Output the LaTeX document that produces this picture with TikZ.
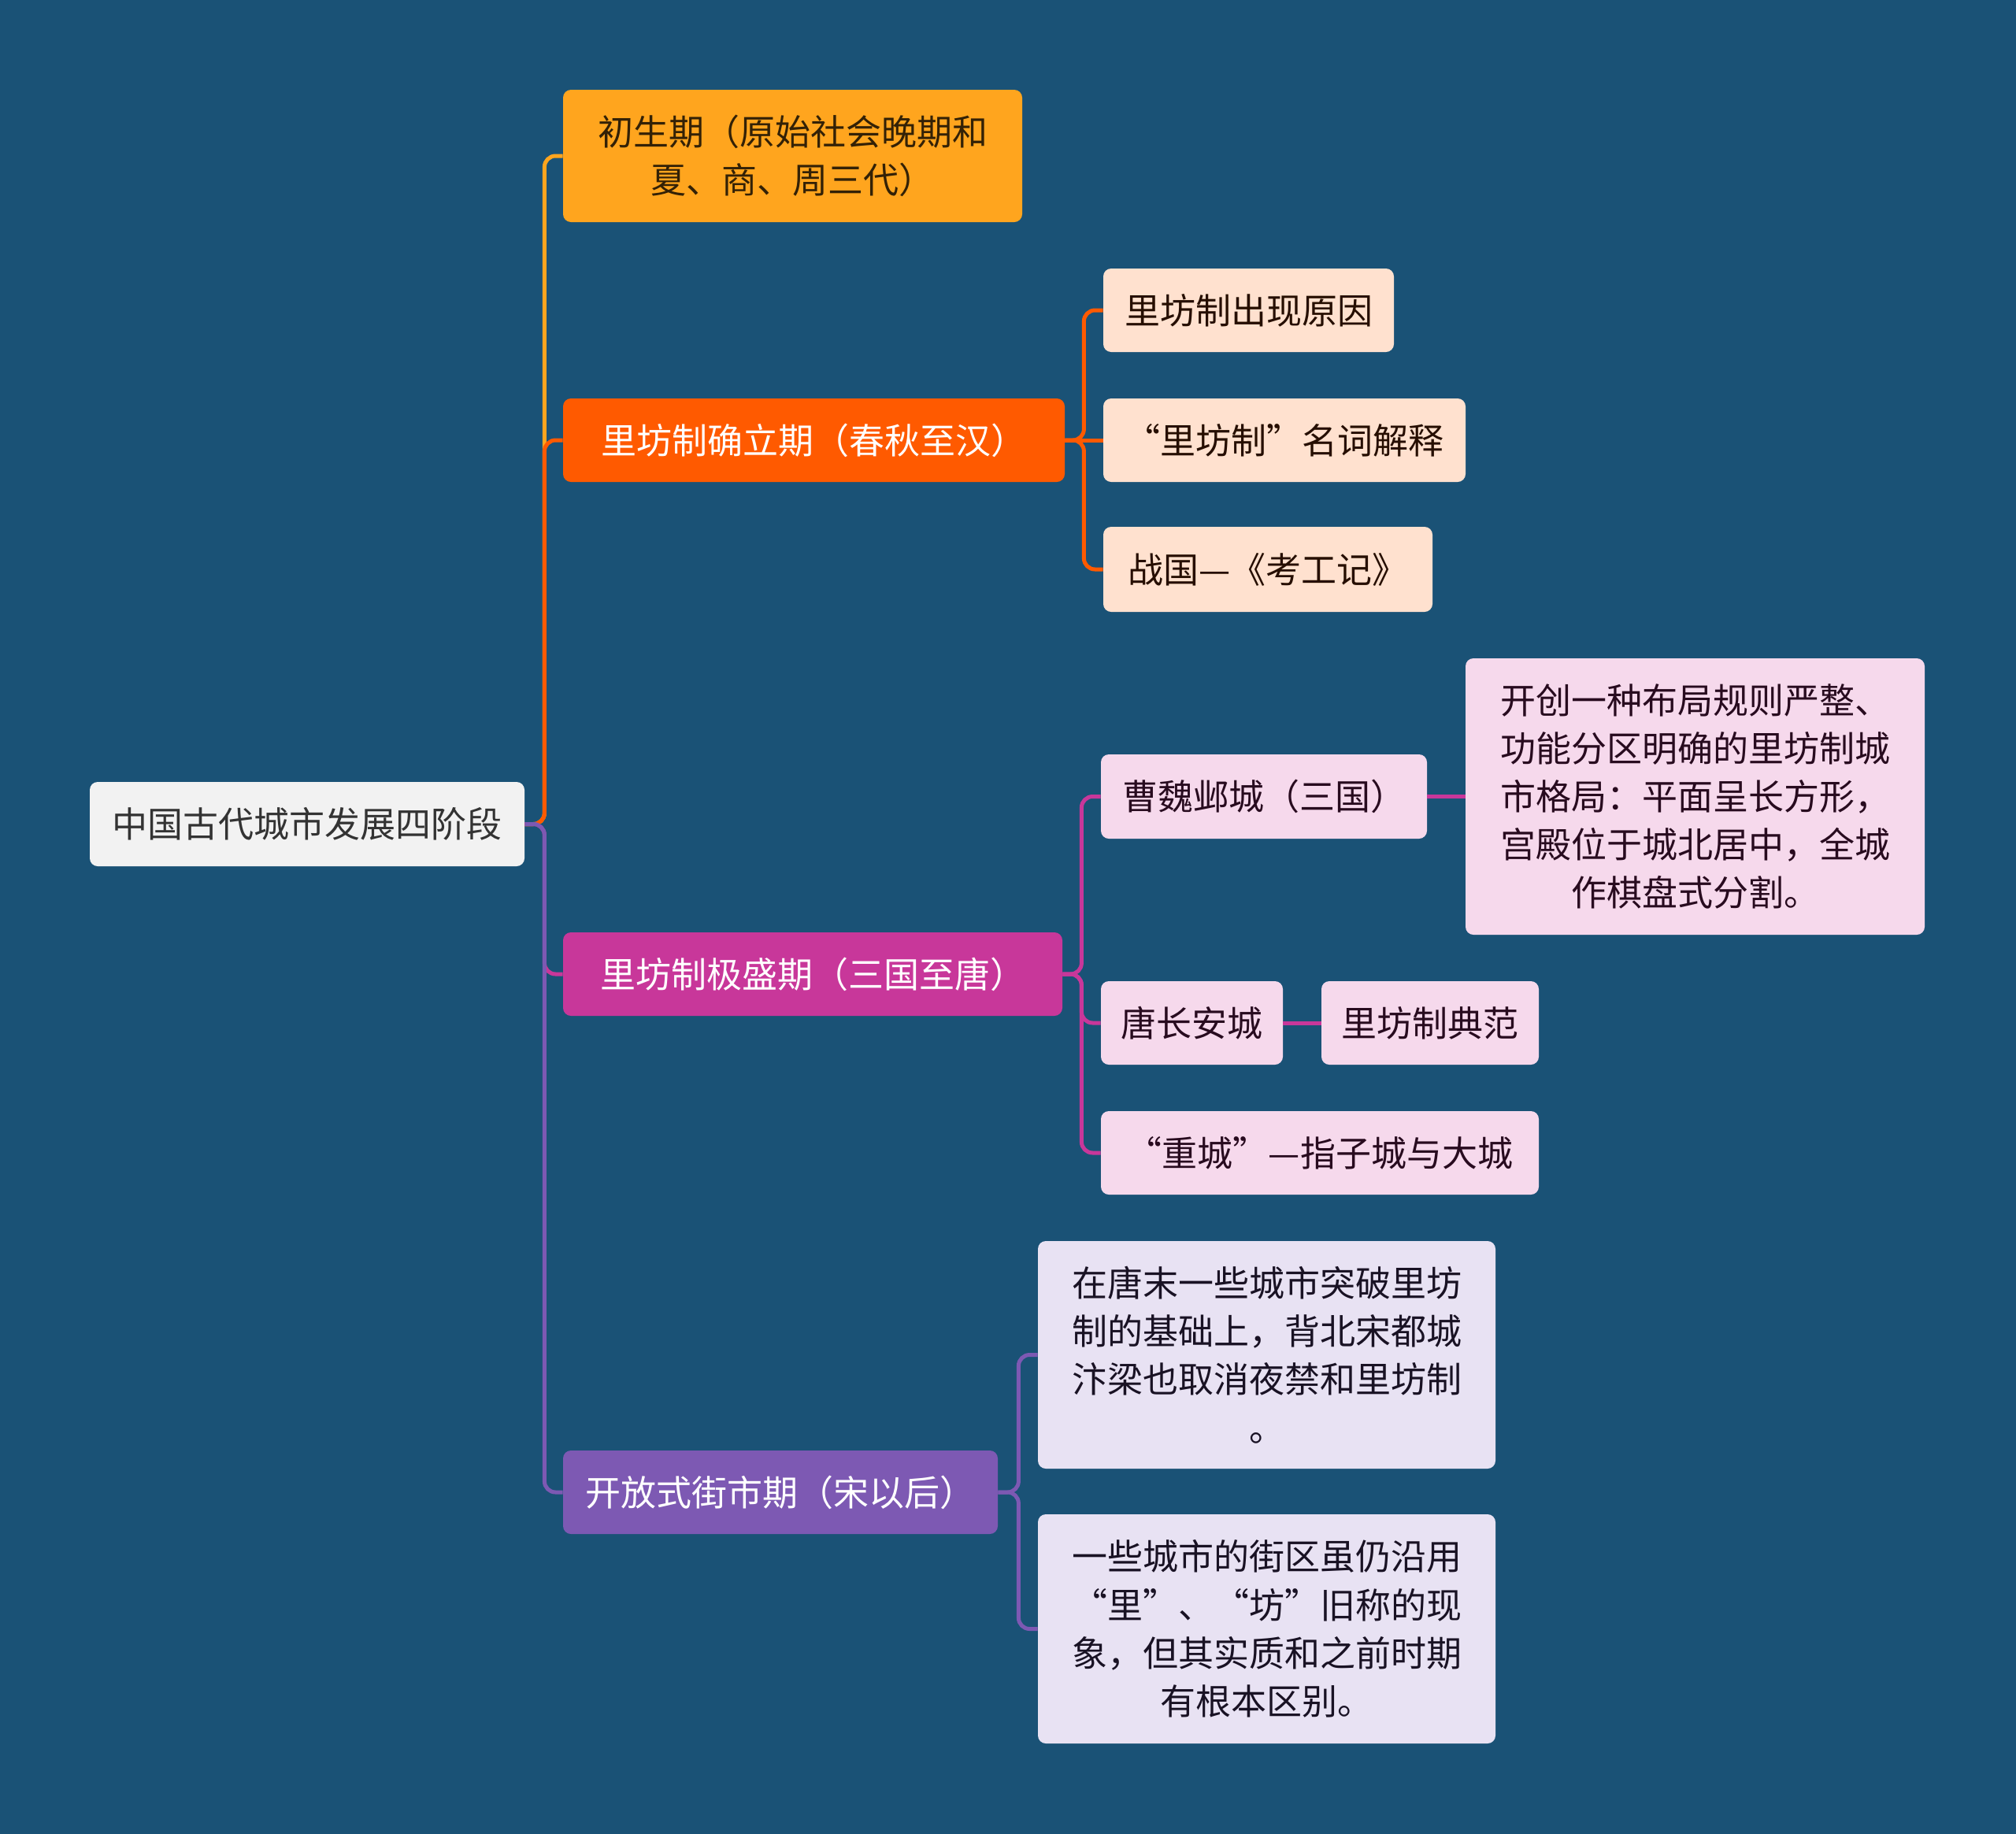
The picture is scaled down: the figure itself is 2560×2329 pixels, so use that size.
\documentclass[tikz,border=0pt]{standalone}
\usepackage{fontspec}
\setmainfont{Noto Sans CJK SC}
\definecolor{bgc}{HTML}{1A5276}
\definecolor{rootf}{HTML}{F2F2F2}
\definecolor{yel}{HTML}{FFA51E}
\definecolor{ora}{HTML}{FF5A00}
\definecolor{mag}{HTML}{C8379A}
\definecolor{pur}{HTML}{7D59B3}
\definecolor{peach}{HTML}{FFE1CF}
\definecolor{pink}{HTML}{F6D9EC}
\definecolor{lav}{HTML}{E8E2F3}
\begin{document}
\begin{tikzpicture}[x=0.5pt,y=-0.5pt,
  box/.style={rounded corners=5pt,inner sep=0pt,align=center,font=\fontsize{22.5}{30.6}\selectfont},
  edge/.style={line width=2.5pt,rounded corners=7pt}]
\fill[bgc] (0,0) rectangle (2560,2329);
\useasboundingbox (0,0) rectangle (2560,2329);
% nodes
\node[box,fill=rootf,text=black!80,minimum width=276pt,minimum height=53.5pt] (root) at (390,1046.5) {中国古代城市发展四阶段};
\node[box,fill=yel,text=black!80!yel,minimum width=291.5pt,minimum height=84pt] (a) at (1006.5,198) {初生期（原始社会晚期和\\夏、商、周三代）};
\node[box,fill=ora,text=white,minimum width=318.5pt,minimum height=53pt] (b) at (1033.5,559) {里坊制确立期（春秋至汉）};
\node[box,fill=mag,text=white,minimum width=317pt,minimum height=53pt] (c) at (1032,1237) {里坊制极盛期（三国至唐）};
\node[box,fill=pur,text=white,minimum width=276pt,minimum height=53pt] (d) at (991,1895) {开放式街市期（宋以后）};
\node[box,fill=peach,text=black!85!ora,minimum width=184.5pt,minimum height=53pt] (b1) at (1585.5,394) {里坊制出现原因};
\node[box,fill=peach,text=black!85!ora,minimum width=230pt,minimum height=53pt] (b2) at (1631,559) {“里坊制”名词解释};
\node[box,fill=peach,text=black!85!ora,minimum width=209pt,minimum height=54pt] (b3) at (1610,723) {战国—《考工记》};
\node[box,fill=pink,text=black!80!mag,minimum width=207pt,minimum height=53.5pt] (c1) at (1605,1011.5) {曹魏邺城（三国）};
\node[box,fill=pink,text=black!80!mag,minimum width=291.5pt,minimum height=175.5pt] (c1a) at (2152.5,1011.5) {开创一种布局规则严整、\\功能分区明确的里坊制城\\市格局：平面呈长方形，\\宫殿位于城北居中，全城\\作棋盘式分割。};
\node[box,fill=pink,text=black!80!mag,minimum width=115.5pt,minimum height=53pt] (c2) at (1513.5,1299) {唐长安城};
\node[box,fill=pink,text=black!80!mag,minimum width=138pt,minimum height=53pt] (c2a) at (1816,1299) {里坊制典范};
\node[box,fill=pink,text=black!80!mag,minimum width=278pt,minimum height=53pt] (c3) at (1676,1464) {“重城”—指子城与大城};
\node[box,fill=lav,text=black!80!pur,minimum width=290.5pt,minimum height=144.5pt] (d1) at (1608.5,1720.5) {在唐末一些城市突破里坊\\制的基础上，背北宋都城\\汴梁也取消夜禁和里坊制\\。};
\node[box,fill=lav,text=black!80!pur,minimum width=290.5pt,minimum height=145.5pt] (d2) at (1608.5,2068.5) {一些城市的街区虽仍沿用\\“里”、“坊”旧称的现\\象，但其实质和之前时期\\有根本区别。};
% first-level edges
\draw[edge,yel] (root.east) -- ++(25,0) |- (a.west);
\draw[edge,ora] (root.east) -- ++(25,0) |- (b.west);
\draw[edge,mag] (root.east) -- ++(25,0) |- (c.west);
\draw[edge,pur] (root.east) -- ++(25,0) |- (d.west);
% second-level edges
\draw[edge,ora] (b.east) -- ++(24,0) |- (b1.west);
\draw[edge,ora] (b.east) -- (b2.west);
\draw[edge,ora] (b.east) -- ++(24,0) |- (b3.west);
\draw[edge,mag] (c.east) -- ++(24,0) |- (c1.west);
\draw[edge,mag] (c.east) -- ++(24,0) |- (c2.west);
\draw[edge,mag] (c.east) -- ++(24,0) |- (c3.west);
\draw[edge,mag] (c1.east) -- (c1a.west);
\draw[edge,mag] (c2.east) -- (c2a.west);
\draw[edge,pur] (d.east) -- ++(26,0) |- (d1.west);
\draw[edge,pur] (d.east) -- ++(26,0) |- (d2.west);
\end{tikzpicture}
\end{document}
